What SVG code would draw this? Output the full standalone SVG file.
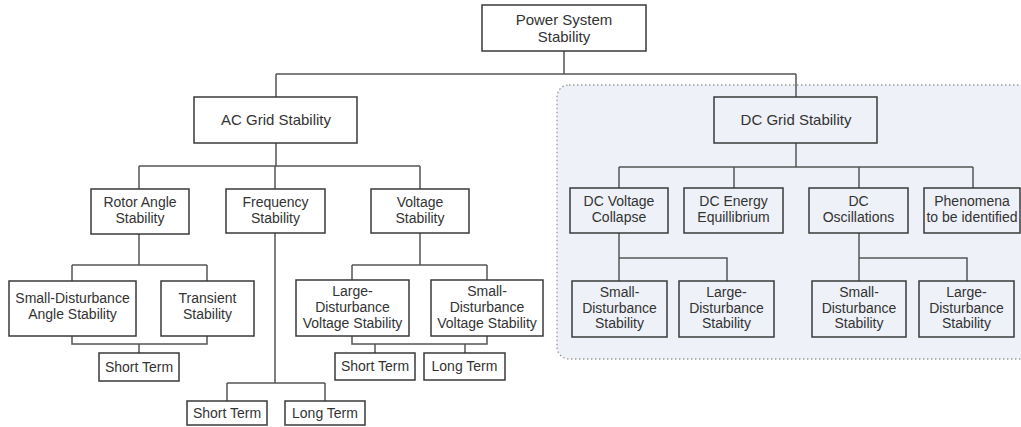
<svg xmlns="http://www.w3.org/2000/svg" width="1021" height="427" viewBox="0 0 1021 427">
<style>
  .box { fill: #ffffff; stroke: #3a3a3a; stroke-width: 1.5; }
  .dbox { fill: #eef1f7; stroke: #3a3a3a; stroke-width: 1.5; }
  .t { font-family: "Liberation Sans", Arial, sans-serif; font-size: 14px; fill: #333333; text-anchor: middle; }
  .tl { font-family: "Liberation Sans", Arial, sans-serif; font-size: 15px; fill: #333333; text-anchor: middle; }
  .conn path { fill: none; stroke: #555555; stroke-width: 1.5; }
</style>
<rect width="1021" height="427" fill="#ffffff"/>
<g id="dc-region">
  <rect x="557" y="85" width="490" height="274" rx="12" ry="12" fill="#eef1f7" stroke="#9a9a9a" stroke-width="1.3" stroke-dasharray="1.5 2.5"/>
</g>
<g class="conn" id="connectors">
  <path d="M564,51 V74 M276,74 H796 M276,74 V97 M796,74 V97"/>
  <path d="M276,143 V166 M139,166 H420 M139,166 V189 M275,166 V189 M420,166 V189"/>
  <path d="M139,234 V265 M72,265 H207 M72,265 V281 M207,265 V281"/>
  <path d="M72,336 V344 H207 V336 M139,344 V353"/>
  <path d="M275,233 V383 M227,383 H325 M227,383 V401 M325,383 V401"/>
  <path d="M420,233 V265 M352,265 H487 M352,265 V280 M487,265 V280"/>
  <path d="M352,336 V344 H487 V336 M375,344 V353 M465,344 V353"/>
  <path d="M796,143 V167 M619,167 H973 M619,167 V188 M734,167 V188 M859,167 V188 M973,167 V188"/>
  <path d="M619,233 V281 M619,258 H727 V281"/>
  <path d="M859,233 V281 M859,258 H967 V281"/>
</g>
<g id="power">
  <rect class="box" x="482" y="5" width="164" height="46"/>
  <text class="tl" x="564" y="25">Power System</text>
  <text class="tl" x="564" y="42">Stability</text>
</g>
<g id="ac">
  <rect class="box" x="194" y="97" width="163" height="46"/>
  <text class="tl" x="276" y="125">AC Grid Stability</text>
</g>
<g id="dc">
  <rect class="dbox" x="714" y="97" width="163" height="46"/>
  <text class="tl" x="796" y="125">DC Grid Stability</text>
</g>
<g id="rotor">
  <rect class="box" x="91" y="189" width="98" height="45"/>
  <text class="t" x="140" y="207">Rotor Angle</text>
  <text class="t" x="140" y="223">Stability</text>
</g>
<g id="frequency">
  <rect class="box" x="226" y="189" width="99" height="44"/>
  <text class="t" x="275.5" y="207">Frequency</text>
  <text class="t" x="275.5" y="223">Stability</text>
</g>
<g id="voltage">
  <rect class="box" x="371" y="189" width="98" height="44"/>
  <text class="t" x="420" y="207">Voltage</text>
  <text class="t" x="420" y="223">Stability</text>
</g>
<g id="sd-angle">
  <rect class="box" x="9" y="281" width="127" height="55"/>
  <text class="t" x="72.5" y="303">Small-Disturbance</text>
  <text class="t" x="72.5" y="319">Angle Stability</text>
</g>
<g id="transient">
  <rect class="box" x="161" y="281" width="93" height="55"/>
  <text class="t" x="207.5" y="303">Transient</text>
  <text class="t" x="207.5" y="319">Stability</text>
</g>
<g id="short-term-angle">
  <rect class="box" x="99" y="353" width="80" height="28"/>
  <text class="t" x="139" y="372">Short Term</text>
</g>
<g id="ld-voltage">
  <rect class="box" x="296" y="280" width="113" height="56"/>
  <text class="t" x="352.5" y="296">Large-</text>
  <text class="t" x="352.5" y="312">Disturbance</text>
  <text class="t" x="352.5" y="328">Voltage Stability</text>
</g>
<g id="sd-voltage">
  <rect class="box" x="431" y="280" width="112" height="56"/>
  <text class="t" x="487" y="296">Small-</text>
  <text class="t" x="487" y="312">Disturbance</text>
  <text class="t" x="487" y="328">Voltage Stability</text>
</g>
<g id="short-term-voltage">
  <rect class="box" x="335" y="353" width="80" height="27"/>
  <text class="t" x="375" y="371">Short Term</text>
</g>
<g id="long-term-voltage">
  <rect class="box" x="424" y="353" width="81" height="27"/>
  <text class="t" x="464.5" y="371">Long Term</text>
</g>
<g id="short-term-freq">
  <rect class="box" x="187" y="401" width="80" height="24"/>
  <text class="t" x="227" y="418">Short Term</text>
</g>
<g id="long-term-freq">
  <rect class="box" x="285" y="401" width="80" height="24"/>
  <text class="t" x="325" y="418">Long Term</text>
</g>
<g id="dc-voltage-collapse">
  <rect class="dbox" x="570" y="188" width="98" height="45"/>
  <text class="t" x="619" y="206">DC Voltage</text>
  <text class="t" x="619" y="222">Collapse</text>
</g>
<g id="dc-energy">
  <rect class="dbox" x="684" y="188" width="99" height="45"/>
  <text class="t" x="733.5" y="206">DC Energy</text>
  <text class="t" x="733.5" y="222">Equillibrium</text>
</g>
<g id="dc-oscillations">
  <rect class="dbox" x="809" y="188" width="99" height="45"/>
  <text class="t" x="858.5" y="206">DC</text>
  <text class="t" x="858.5" y="222">Oscillations</text>
</g>
<g id="phenomena">
  <rect class="dbox" x="924" y="188" width="96" height="45"/>
  <text class="t" x="972" y="206">Phenomena</text>
  <text class="t" x="972" y="222">to be identified</text>
</g>
<g id="dc-sd-1">
  <rect class="dbox" x="572" y="281" width="95" height="56"/>
  <text class="t" x="619.5" y="297">Small-</text>
  <text class="t" x="619.5" y="312.5">Disturbance</text>
  <text class="t" x="619.5" y="328">Stability</text>
</g>
<g id="dc-ld-1">
  <rect class="dbox" x="679" y="281" width="95" height="56"/>
  <text class="t" x="726.5" y="297">Large-</text>
  <text class="t" x="726.5" y="312.5">Disturbance</text>
  <text class="t" x="726.5" y="328">Stability</text>
</g>
<g id="dc-sd-2">
  <rect class="dbox" x="812" y="281" width="94" height="56"/>
  <text class="t" x="859" y="297">Small-</text>
  <text class="t" x="859" y="312.5">Disturbance</text>
  <text class="t" x="859" y="328">Stability</text>
</g>
<g id="dc-ld-2">
  <rect class="dbox" x="919" y="281" width="95" height="56"/>
  <text class="t" x="966.5" y="297">Large-</text>
  <text class="t" x="966.5" y="312.5">Disturbance</text>
  <text class="t" x="966.5" y="328">Stability</text>
</g>
</svg>
